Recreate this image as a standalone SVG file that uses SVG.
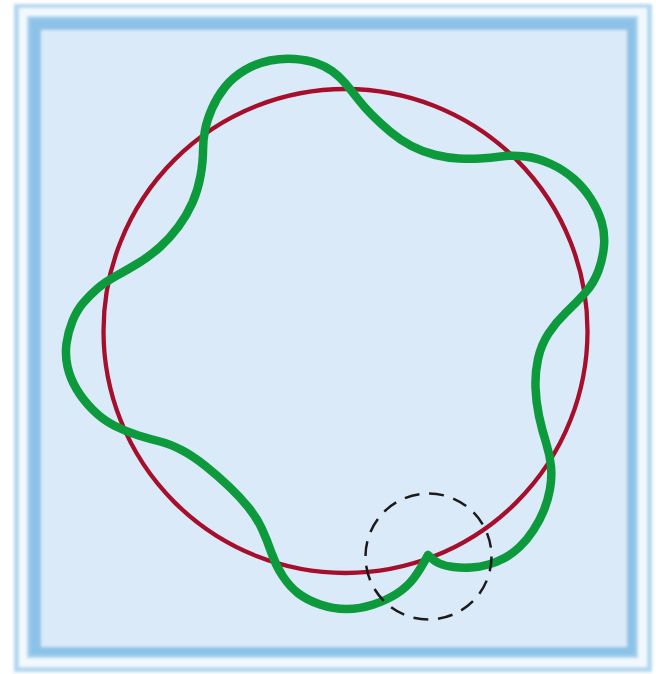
<svg xmlns="http://www.w3.org/2000/svg" width="656" height="674" viewBox="0 0 656 674">
<defs>
<filter id="soft" x="-5%" y="-5%" width="110%" height="110%"><feGaussianBlur stdDeviation="1.6"/></filter>
</defs>
<style>
.orbit{fill:none;stroke:#a50f2c;stroke-width:4.3}
.wave{fill:none;stroke:#0c9a3d;stroke-width:8.5;stroke-linecap:round;stroke-linejoin:round}
.mark{fill:none;stroke:#1b1b1b;stroke-width:2.5;stroke-dasharray:15 9.75}
</style>
<rect width="656" height="674" fill="#ffffff"/>
<g id="frame" filter="url(#soft)">
<rect x="14" y="4" width="638" height="668" fill="#b3d7f0"/>
<rect x="19" y="8" width="628" height="659" fill="#f2f9fe"/>
<rect x="27" y="16" width="611" height="642" fill="#a6d0ee"/>
<rect x="30" y="19" width="605" height="636" fill="#8cc2e7"/>
<rect x="41" y="30" width="586" height="617" fill="#dbeaf8"/>
</g>
<g id="orbit">
<circle class="orbit" cx="345.5" cy="331" r="242"/>
</g>
<g id="wave">
<path class="wave" d="M 428 555 Q 434 561 439.5 563.5 T 453.5 567 T 471 567.5 T 488.5 564.5 T 504.5 558 T 519.5 547 T 533.5 530 T 544 510 T 550 489 T 551 466.5 T 546 442.5 T 539 416 T 535.5 387.5 T 538 359 T 548.5 333.5 T 566 312.5 T 585 293 T 598.5 270.5 T 604 245.5 T 601.5 221.5 T 591 199 T 574 179 T 551 164 T 525 156.5 T 501 156.5 T 480 158.5 T 459 158.5 T 435.5 155 T 411.5 146 T 390 131.5 T 372 115 T 357.5 98.5 T 345 83 T 332 71 T 316 63 T 295 59 T 270 60.5 T 245 70 T 225 87 T 212 108.5 T 205 130 T 203 151 T 200.5 176 T 192.5 202.5 T 178.5 226.5 T 160 247 T 138.5 263 T 116 276 T 97.5 288.5 T 83.5 302.5 T 72.5 321 T 66.5 343.5 T 67.5 366.5 T 76.5 389 T 93 410 T 115 426 T 138.5 435.5 T 160 441.5 T 181.5 450 T 205.5 466 T 229 486.5 T 248.5 507.5 T 262 529 T 271.5 553 T 283 576.5 T 298.5 593.5 T 320 604.5 T 346.5 609 T 373.5 604.5 T 397 593.5 T 413.5 578.5 Q 420 570 428 555"/>
</g>
<g id="highlight">
<circle class="mark" cx="428.5" cy="556.5" r="63"/>
</g>
</svg>
